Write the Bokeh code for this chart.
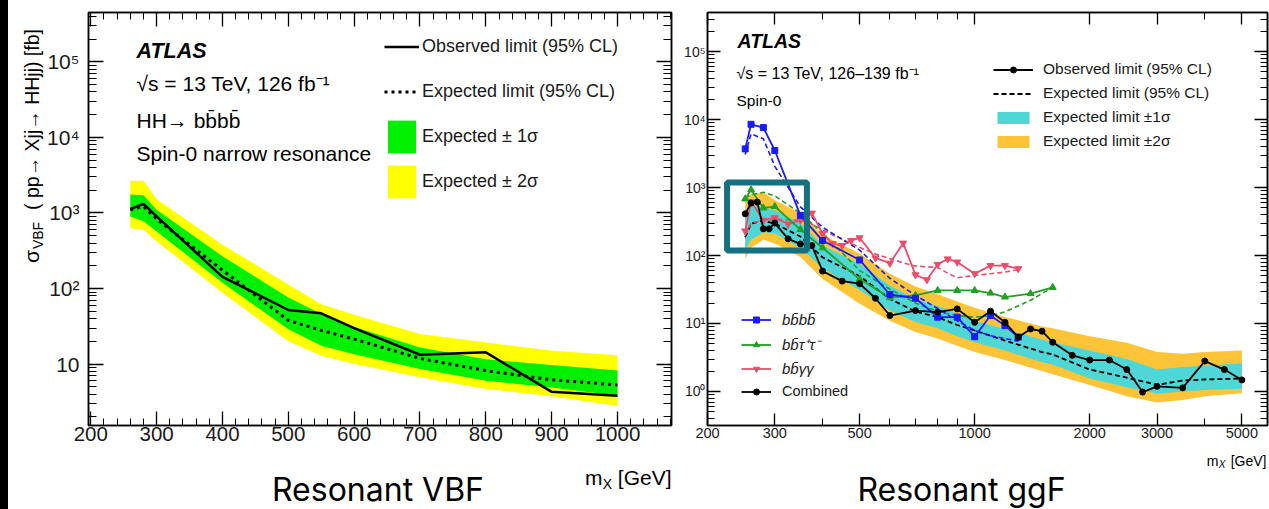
from bokeh.plotting import figure
from bokeh.layouts import row, column
from bokeh.models import (Label, Legend, LegendItem, LinearAxis, LogAxis, FixedTicker,
                          BoxAnnotation, Div)
from bokeh.embed import file_html
from bokeh.resources import INLINE

FONT = "Liberation Sans"

# ---------------- Resonant VBF (left) ----------------
vbf_mass = [260, 280, 300, 400, 500, 550, 600, 700, 800, 900, 1000]
vbf_obs = [1130, 1320, 900, 143, 52, 47, 30, 13.3, 14.3, 4.3, 3.8]
vbf_exp = [1100, 1220, 830, 175, 38, 28, 21.4, 11.9, 8.2, 6.2, 5.3]
vbf_p2 = [2680, 2680, 1520, 380, 113, 62, 45, 25, 19.3, 15, 13.1]
vbf_p1 = [1750, 1720, 1100, 267, 76, 46, 31, 16.6, 11.6, 9.7, 8.2]
vbf_m1 = [900, 780, 570, 119, 29, 17.5, 13.5, 8.6, 6.0, 4.9, 3.8]
vbf_m2 = [630, 600, 420, 88, 20, 12.9, 10, 6.7, 4.7, 3.75, 2.8]
vbf_xticks = [200, 300, 400, 500, 600, 700, 800, 900, 1000]
vbf_xminor = [220, 240, 260, 280, 320, 340, 360, 380, 420, 440, 460, 480, 520, 540, 560, 580,
              620, 640, 660, 680, 720, 740, 760, 780, 820, 840, 860, 880, 920, 940, 960, 980,
              1020, 1040, 1060, 1080]
vbf_yticks = [10, 100, 1000, 10000, 100000]
vbf_ylabels = ["10", "10²", "10³", "10⁴", "10⁵"]

# ---------------- Resonant ggF (right) ----------------
ggf_band_mass = [251, 260, 280, 300, 350, 400, 500, 600, 700, 800, 900, 1000, 1200, 1500,
                 1600, 2000, 2500, 3000, 3500, 4000, 5000]
ggf_exp = [186, 295, 325, 295, 190, 94, 50, 23, 15, 12.4, 9.5, 7.9, 5.6, 3.8, 3.5, 2.1, 1.6,
           1.25, 1.45, 1.5, 1.55]
ggf_p1 = [460, 560, 520, 460, 300, 140, 75, 36, 23, 18, 14, 11, 8.2, 5.8, 5.3, 4.0, 3.0, 2.1,
          2.3, 2.4, 2.6]
ggf_m1 = [120, 170, 220, 210, 130, 65, 31, 15.5, 10.5, 8.5, 6.5, 5.3, 4.0, 2.7, 2.5, 1.55, 1.15,
          0.93, 1.0, 1.05, 1.1]
ggf_p2 = [650, 800, 850, 650, 420, 200, 107, 54, 35, 27, 21, 17, 12.5, 9, 8.5, 6.5, 5.2, 3.8,
          3.6, 3.8, 4.0]
ggf_m2 = [90, 130, 170, 150, 95, 45, 19.5, 11, 7.5, 6, 4.7, 3.8, 2.9, 2.0, 1.8, 1.25, 0.85,
          0.69, 0.75, 0.85, 0.94]

comb_mass = [251, 260, 270, 280, 290, 300, 325, 350, 375, 400, 450, 500, 550, 600, 700, 800,
             900, 1000, 1100, 1200, 1300, 1400, 1500, 1600, 1800, 2000, 2250, 2500, 2750, 3000,
             3500, 4000, 4500, 5000]
comb_obs = [410, 590, 610, 247, 247, 300, 176, 148, 140, 59, 42, 38.5, 23.5, 13.1, 15.5, 14.7,
            16.4, 10.4, 15.2, 10.4, 6.3, 8.3, 7.7, 5.3, 3.4, 2.9, 2.9, 2.1, 0.98, 1.19,
            1.13, 2.8, 2.1, 1.48]

b4_mass = [251, 260, 280, 300, 350, 400, 500, 600, 700, 800, 900, 1000, 1100, 1200, 1300]
b4_obs = [3700, 8500, 7600, 3500, 390, 166, 86, 26.7, 23.5, 12.4, 12.4, 6.4, 13.1, 9.3, 6.3]
b4_exp = [3050, 6150, 5200, 2050, 520, 260, 120, 46, 26, 16.6, 11, 7.9, 6.6, 6.0, 5.5]

bt_mass = [251, 260, 280, 300, 350, 400, 500, 600, 700, 800, 900, 1000, 1100, 1200, 1400, 1600]
bt_obs = [680, 925, 500, 525, 240, 130, 45, 24, 26, 30.6, 30.6, 30.6, 28, 24.5, 27.5, 34]
bt_exp = [700, 780, 850, 750, 420, 215, 60, 32, 20, 15, 13, 12.4, 13, 14.8, 22, 34]

bg_mass = [251, 260, 280, 300, 325, 350, 375, 400, 425, 450, 475, 500, 550, 600, 650, 700,
           750, 800, 850, 900, 1000, 1100, 1200, 1300]
bg_obs = [230, 620, 330, 360, 290, 330, 420, 210, 150, 140, 166, 182, 92, 77, 152, 52, 44, 74,
          89, 80, 54, 71, 71, 64]
bg_exp = [200, 300, 330, 340, 335, 330, 290, 240, 200, 175, 150, 132, 105, 90, 78, 70, 68, 67,
          55, 47, 51, 54, 57, 62]

ggf_xticks = [200, 300, 500, 1000, 2000, 3000, 5000]
ggf_xminor = [400, 600, 700, 800, 900, 4000]
ggf_yticks = [1, 10, 100, 1000, 10000, 100000]
ggf_ylabels = ["10⁰", "10¹", "10²", "10³", "10⁴", "10⁵"]
zoom_box = dict(left=225, right=364, bottom=118, top=1180)

GREEN_BAND = "#00f000"
YELLOW_BAND = "#ffff00"
CYAN = "#4fd6d6"
ORANGE = "#fcc436"
BLUE = "#1a1aff"
GREEN = "#22a022"
RED = "#ee4b6a"
TEAL = "#17707f"

TOP_H = 452  # height of the chart row; text below it lives in a separate panel
ROT_FIX = 30  # observed upward offset of rotated labels in the title panel


def style_axis(ax, size, major_in, minor_in, standoff, labels=True, ticks=None):
    ax.major_tick_in = major_in
    ax.major_tick_out = 0
    ax.minor_tick_in = minor_in
    ax.minor_tick_out = 0
    ax.axis_line_color = "black"
    ax.axis_line_width = 1.5
    ax.major_tick_line_color = "black"
    ax.minor_tick_line_color = "black"
    ax.major_tick_line_width = 1.3
    ax.minor_tick_line_width = 1.0
    ax.major_label_text_font = FONT
    ax.major_label_text_color = "#1a1a1a"
    ax.axis_label = None
    if labels:
        ax.major_label_text_font_size = f"{size}px"
        ax.major_label_standoff = standoff
    else:
        # mirrored axis: keep ticks, hide labels
        ax.major_label_text_font_size = "1px"
        ax.major_label_text_alpha = 0
        ax.major_label_standoff = 0
        ax.major_label_overrides = {t: " " for t in ticks}


def put(p, ox, oy, px, py, text, size, style="normal", align="left", baseline="middle",
        angle=0, font=FONT, color="black"):
    # (ox, oy): page position of the frame's bottom-left corner
    p.add_layout(Label(x=px - ox, y=oy - py, x_units="screen", y_units="screen", text=text,
                       text_font=font, text_font_size=f"{size}px", text_font_style=style,
                       text_align=align, text_baseline=baseline, angle=angle,
                       angle_units="deg", text_color=color))


def text_panel(w, h):
    f = figure(width=w, height=h, x_range=(0, 1), y_range=(0, 1), toolbar_location=None,
               output_backend="svg", title=None, min_border=0, outline_line_color=None,
               x_axis_location=None, y_axis_location=None, margin=0)
    f.grid.visible = False
    return f


log_minor = [k * 10 ** e for e in range(-1, 6) for k in range(2, 10)]

bar = Div(width=8, height=509, margin=0, styles={"background-color": "black"})

# ---------------- left figure ----------------
L_FL, L_FB = 88, 427
left = figure(width=636, height=TOP_H, x_range=(196.5, 1082), y_range=(1.54, 4.5e5),
              y_axis_type="log", output_backend="svg", toolbar_location=None, title=None,
              min_border_left=44, min_border_right=9, min_border_top=12,
              min_border_bottom=TOP_H - L_FB, outline_line_color="black",
              outline_line_width=1.5, margin=0)
left.grid.visible = False
lxt = FixedTicker(ticks=vbf_xticks, minor_ticks=vbf_xminor)
lyt = FixedTicker(ticks=vbf_yticks, minor_ticks=log_minor)
left.xaxis.ticker = lxt
left.yaxis.ticker = lyt
left.xaxis.major_label_overrides = {t: str(t) for t in vbf_xticks}
left.yaxis.major_label_overrides = {t: s for t, s in zip(vbf_yticks, vbf_ylabels)}
style_axis(left.xaxis[0], 20.5, 14, 7, 1)
style_axis(left.yaxis[0], 21, 15, 8, 9)
ax_top = LinearAxis(ticker=lxt)
style_axis(ax_top, 0, 14, 7, 0, labels=False, ticks=vbf_xticks)
left.add_layout(ax_top, "above")
ax_r = LogAxis(ticker=lyt)
style_axis(ax_r, 0, 15, 8, 0, labels=False, ticks=vbf_yticks)
left.add_layout(ax_r, "right")

r_y = left.varea(x=vbf_mass, y1=vbf_m2, y2=vbf_p2, fill_color=YELLOW_BAND)
r_g = left.varea(x=vbf_mass, y1=vbf_m1, y2=vbf_p1, fill_color=GREEN_BAND)
r_exp = left.line(vbf_mass, vbf_exp, line_color="black", line_width=3, line_dash="3 4")
r_obs = left.line(vbf_mass, vbf_obs, line_color="black", line_width=2.5)

leg_l = Legend(items=[LegendItem(label="Observed limit (95% CL)", renderers=[r_obs]),
                      LegendItem(label="Expected limit (95% CL)", renderers=[r_exp]),
                      LegendItem(label="Expected ± 1σ", renderers=[r_g]),
                      LegendItem(label="Expected ± 2σ", renderers=[r_y])],
               location=(384 - L_FL, L_FB - 203.8), glyph_width=35, glyph_height=41,
               label_height=41, spacing=4, padding=0, margin=0, label_standoff=3,
               label_text_font=FONT, label_text_font_size="18px", label_text_color="#1a1a1a",
               border_line_color=None, background_fill_alpha=0)
left.add_layout(leg_l)

put(left, L_FL, L_FB, 136, 52, "ATLAS", 21.5, style="bold italic")
put(left, L_FL, L_FB, 136, 85, "√s = 13 TeV, 126 fb⁻¹", 21)
put(left, L_FL, L_FB, 136, 121.5, "HH→ bb̄bb̄", 21)
put(left, L_FL, L_FB, 136, 155, "Spin-0 narrow resonance", 21)

# y-axis title panel (page x 8..44, y 0..TOP_H), pieces centred on their own midpoints
ytitle = text_panel(36, TOP_H)
put(ytitle, 8, TOP_H, 31, 253 + ROT_FIX, "σ", 21, angle=90, align="center")
put(ytitle, 8, TOP_H, 37, 232 + ROT_FIX, "VBF", 14, angle=90, align="center")
put(ytitle, 8, TOP_H, 31, 116 + ROT_FIX, "( pp→ Xjj→ HHjj) [fb]", 19.5, angle=90,
    align="center")

# ---------------- right figure ----------------
R_FL, R_FB = 703, 425
right = figure(width=589, height=TOP_H, x_range=(200, 5835), y_range=(0.316, 3.75e5),
               x_axis_type="log", y_axis_type="log", output_backend="svg",
               toolbar_location=None, title=None, min_border_left=23, min_border_right=2,
               min_border_top=12, min_border_bottom=TOP_H - R_FB, outline_line_color="black",
               outline_line_width=1.5, margin=0)
right.grid.visible = False
rxt = FixedTicker(ticks=ggf_xticks, minor_ticks=ggf_xminor)
ryt = FixedTicker(ticks=ggf_yticks, minor_ticks=log_minor)
right.xaxis.ticker = rxt
right.yaxis.ticker = ryt
right.xaxis.major_label_overrides = {t: str(t) for t in ggf_xticks}
right.yaxis.major_label_overrides = {t: s for t, s in zip(ggf_yticks, ggf_ylabels)}
style_axis(right.xaxis[0], 14.5, 12, 7, 2)
style_axis(right.yaxis[0], 14, 13, 7, 2)
rax_top = LogAxis(ticker=rxt)
style_axis(rax_top, 0, 12, 7, 0, labels=False, ticks=ggf_xticks)
right.add_layout(rax_top, "above")
rax_r = LogAxis(ticker=ryt)
style_axis(rax_r, 0, 13, 7, 0, labels=False, ticks=ggf_yticks)
right.add_layout(rax_r, "right")

r_o = right.varea(x=ggf_band_mass, y1=ggf_m2, y2=ggf_p2, fill_color=ORANGE)
r_c = right.varea(x=ggf_band_mass, y1=ggf_m1, y2=ggf_p1, fill_color=CYAN)
r_cexp = right.line(ggf_band_mass, ggf_exp, line_color="black", line_width=1.8, line_dash="5 3")
right.line(bg_mass, bg_exp, line_color=RED, line_width=1.6, line_dash="5 3")
right.line(bt_mass, bt_exp, line_color=GREEN, line_width=1.6, line_dash="5 3")
right.line(b4_mass, b4_exp, line_color=BLUE, line_width=1.6, line_dash="5 3")
r_bgl = right.line(bg_mass, bg_obs, line_color=RED, line_width=1.8)
r_bgs = right.scatter(bg_mass, bg_obs, marker="inverted_triangle", size=7, color=RED)
r_btl = right.line(bt_mass, bt_obs, line_color=GREEN, line_width=1.8)
r_bts = right.scatter(bt_mass, bt_obs, marker="triangle", size=7, color=GREEN)
r_b4l = right.line(b4_mass, b4_obs, line_color=BLUE, line_width=1.8)
r_b4s = right.scatter(b4_mass, b4_obs, marker="square", size=6, color=BLUE)
r_cl = right.line(comb_mass, comb_obs, line_color="black", line_width=1.8)
r_cs = right.scatter(comb_mass, comb_obs, marker="circle", size=6, color="black")

right.add_layout(BoxAnnotation(**zoom_box, fill_alpha=0, line_color=TEAL, line_width=6,
                               line_alpha=1))

leg_r = Legend(items=[LegendItem(label="Observed limit (95% CL)", renderers=[r_cl, r_cs]),
                      LegendItem(label="Expected limit (95% CL)", renderers=[r_cexp]),
                      LegendItem(label="Expected limit ±1σ", renderers=[r_c]),
                      LegendItem(label="Expected limit ±2σ", renderers=[r_o])],
               location=(989 - R_FL, R_FB - 150), glyph_width=40, glyph_height=15,
               label_height=15, spacing=6, padding=0, margin=0, label_standoff=10,
               label_text_font=FONT, label_text_font_size="15.5px", label_text_color="#1a1a1a",
               border_line_color=None, background_fill_alpha=0)
right.add_layout(leg_r)

leg_c = Legend(items=[LegendItem(label="bb̄bb̄", renderers=[r_b4l, r_b4s]),
                      LegendItem(label="bb̄τ⁺τ⁻", renderers=[r_btl, r_bts]),
                      LegendItem(label="bb̄γγ", renderers=[r_bgl, r_bgs])],
               location=(737 - R_FL, R_FB - 377), glyph_width=30, glyph_height=15,
               label_height=15, spacing=6, padding=0, margin=0, label_standoff=11,
               label_text_font=FONT, label_text_font_size="15px", label_text_font_style="italic",
               label_text_color="#1a1a1a", border_line_color=None, background_fill_alpha=0)
right.add_layout(leg_c)
leg_k = Legend(items=[LegendItem(label="Combined", renderers=[r_cl, r_cs])],
               location=(737 - R_FL, R_FB - 399), glyph_width=30, glyph_height=15,
               label_height=15, spacing=6, padding=0, margin=0, label_standoff=11,
               label_text_font=FONT, label_text_font_size="14.5px", label_text_color="#1a1a1a",
               border_line_color=None, background_fill_alpha=0)
right.add_layout(leg_k)

put(right, R_FL, R_FB, 733, 40, "ATLAS", 19.5, style="bold italic")
put(right, R_FL, R_FB, 732, 73, "√s = 13 TeV, 126–139 fb⁻¹", 16)
put(right, R_FL, R_FB, 732, 100, "Spin-0", 15.5)

# ---------------- bottom text panel (page x 8..1269, y TOP_H..509) ----------------
bottom = text_panel(1261, 509 - TOP_H)
put(bottom, 8, 509, 671, 477, "[GeV]", 21, align="right")
put(bottom, 8, 509, 611.5, 483, "X", 14, align="right")
put(bottom, 8, 509, 602, 477, "m", 21, align="right")
put(bottom, 8, 509, 377.5, 489, "Resonant VBF", 32, align="center", font="Inter")
put(bottom, 8, 509, 1266, 460, "[GeV]", 14, align="right")
put(bottom, 8, 509, 1225, 464, "X", 10, style="italic", align="right")
put(bottom, 8, 509, 1218, 460, "m", 14, align="right")
put(bottom, 8, 509, 961, 489, "Resonant ggF", 32, align="center", font="Inter")

layout = row(bar,
             column(row(ytitle, left, right, spacing=0, margin=0), bottom,
                    spacing=0, margin=0),
             spacing=0, margin=0)
open("out.html", "w").write(file_html(layout, INLINE))
